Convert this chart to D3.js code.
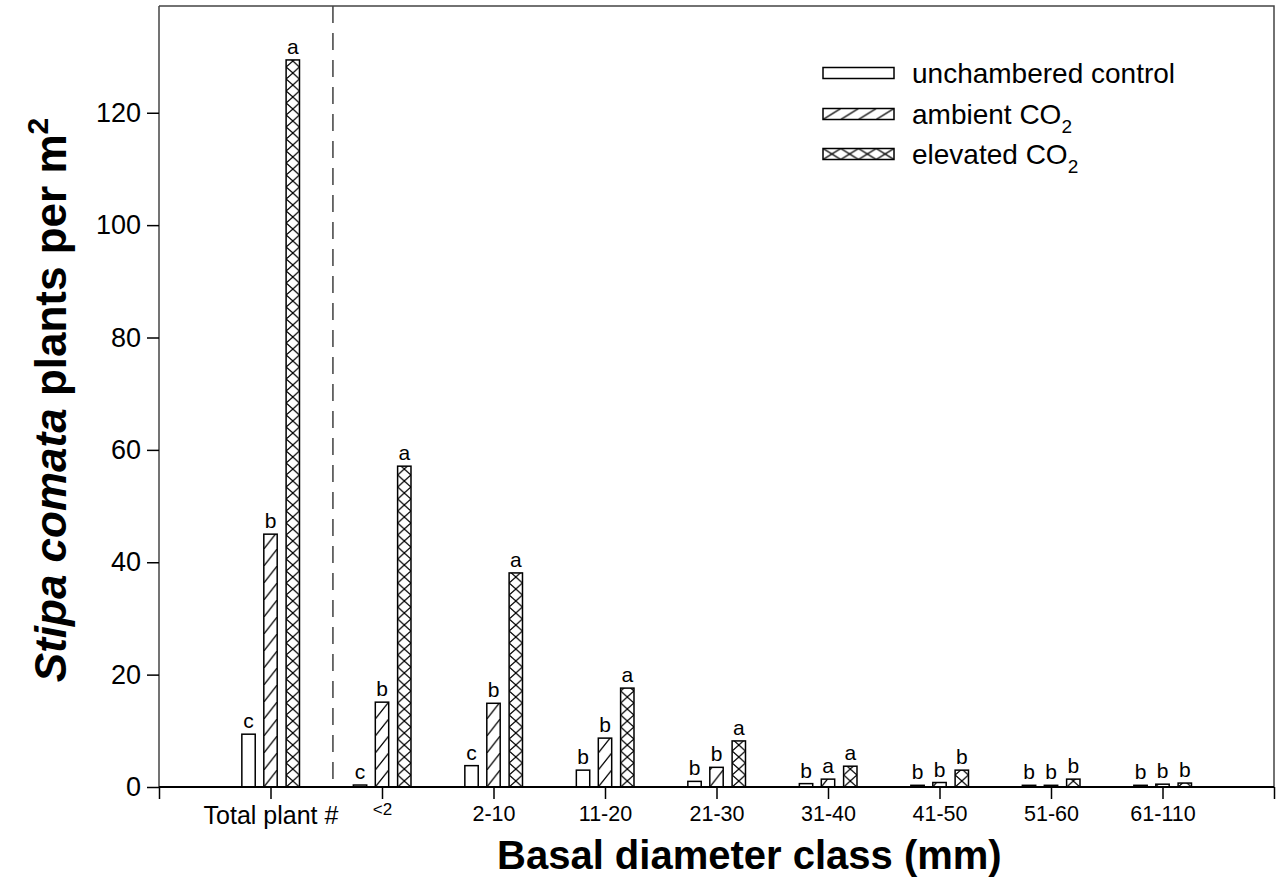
<!DOCTYPE html>
<html>
<head>
<meta charset="utf-8">
<script src="https://cdn.jsdelivr.net/npm/d3@7"></script>
<style>
  body { margin: 0; background: #fff; }
  svg { display: block; font-family: Arial, "Liberation Sans", Helvetica, sans-serif; }
</style>
</head>
<body>
<svg id="chart" width="1278" height="895"></svg>
<script>
// ---- data ----
const categories = ["Total plant #", "<2", "2-10", "11-20", "21-30", "31-40", "41-50", "51-60", "61-110"];
const seriesNames = ["unchambered control", "ambient CO2", "elevated CO2"];
const unchambered = [9.4, 0.35, 3.8, 3.0, 1.0, 0.6, 0.3, 0.3, 0.3];
const ambient     = [45, 15.1, 14.9, 8.7, 3.5, 1.4, 0.8, 0.3, 0.5];
const elevated    = [129.4, 57.1, 38.1, 17.6, 8.2, 3.7, 3.0, 1.4, 0.7];
const lettersUnch = ["c", "c", "c", "b", "b", "b", "b", "b", "b"];
const lettersAmb  = ["b", "b", "b", "b", "b", "a", "b", "b", "b"];
const lettersElev = ["a", "a", "a", "a", "a", "a", "b", "b", "b"];
const yTicks = [0, 20, 40, 60, 80, 100, 120];

const svg = d3.select("#chart");
const plot = { left: 159, right: 1274, top: 6, bottom: 787 };

const x = d3.scaleLinear().domain([0, 10]).range([plot.left, plot.right]);
const y = d3.scaleLinear().domain([0, 139]).range([plot.bottom, plot.top]);

const offsets = [-0.197, 0, 0.2];
const barW = 0.12;
const seriesVals = [unchambered, ambient, elevated];
const seriesLetters = [lettersUnch, lettersAmb, lettersElev];

const defs = svg.append("defs");
function makePattern(id, type, ox, oy, w, h) {
  const p = defs.append("pattern").attr("id", id)
    .attr("patternUnits", "userSpaceOnUse")
    .attr("x", ox).attr("y", oy).attr("width", w).attr("height", h);
  p.append("rect").attr("width", w).attr("height", h).attr("fill", "#fff");
  if (type === 1 || type === 2) {
    p.append("line").attr("x1", 0).attr("y1", h).attr("x2", w).attr("y2", 0)
      .attr("stroke", "#000").attr("stroke-width", 1.3);
  }
  if (type === 2) {
    p.append("line").attr("x1", 0).attr("y1", 0).attr("x2", w).attr("y2", h)
      .attr("stroke", "#000").attr("stroke-width", 1.3);
  }
  return `url(#${id})`;
}

// bars
const g = svg.append("g");
seriesVals.forEach((vals, s) => {
  vals.forEach((v, i) => {
    const cx = x(i + 1 + offsets[s]);
    const bw = x(barW) - x(0);
    const x0 = cx - bw / 2;
    const yTop = y(v);
    let fill = "#fff";
    if (s === 1) fill = makePattern(`p${s}_${i}`, 1, x0, y(0), bw, 17);
    if (s === 2) fill = makePattern(`p${s}_${i}`, 2, x0, y(0), bw, 12);
    g.append("rect")
      .attr("x", x0).attr("y", yTop)
      .attr("width", bw).attr("height", y(0) - yTop)
      .attr("fill", fill).attr("stroke", "#000").attr("stroke-width", 1.5);
    g.append("text")
      .attr("x", cx).attr("y", yTop - 6)
      .attr("text-anchor", "middle")
      .attr("font-size", 21)
      .text(seriesLetters[s][i]);
  });
});

// dashed separator
svg.append("line")
  .attr("x1", x(1.56)).attr("x2", x(1.56))
  .attr("y1", plot.top).attr("y2", plot.bottom)
  .attr("stroke", "#222").attr("stroke-width", 1.3)
  .attr("stroke-dasharray", "17,10");

// frame: top and right
svg.append("path")
  .attr("d", `M${plot.left},${plot.top}H${plot.right}V${plot.bottom}`)
  .attr("fill", "none").attr("stroke", "#444").attr("stroke-width", 1.5);

// y axis
const yAxis = d3.axisLeft(y).tickValues(yTicks).tickSize(12).tickPadding(6).tickFormat(d3.format("d"));
const ya = svg.append("g").attr("transform", `translate(${plot.left},0)`).call(yAxis);
ya.select(".domain").attr("stroke", "#444").attr("stroke-width", 1.5).attr("d", `M0,${plot.top}V${plot.bottom}`);
ya.selectAll(".tick line").attr("stroke", "#000").attr("stroke-width", 1.5);
ya.selectAll(".tick text").attr("font-size", 27).attr("fill", "#000").attr("font-family", "Arial, 'Liberation Sans', sans-serif");

// x axis
const xAxis = d3.axisBottom(x).tickValues(d3.range(0, 11)).tickSize(12).tickPadding(7)
  .tickFormat(d => (d >= 1 && d <= 9) ? categories[d - 1] : "");
const xa = svg.append("g").attr("transform", `translate(0,${plot.bottom})`).call(xAxis);
xa.select(".domain").attr("stroke", "#000").attr("stroke-width", 2).attr("d", `M${plot.left},0H${plot.right}`);
xa.selectAll(".tick line").attr("stroke", "#000").attr("stroke-width", 1.5);
xa.selectAll(".tick text")
  .attr("font-size", d => d === 1 ? 25 : (d === 2 ? 17 : 21.5))
  .attr("dy", d => d === 2 ? "0.55em" : "0.71em")
  .attr("fill", "#000")
  .attr("font-family", "Arial, 'Liberation Sans', sans-serif");

// axis titles
svg.append("text")
  .attr("x", 497).attr("y", 869)
  .attr("text-anchor", "start").attr("font-weight", "bold").attr("font-size", 40)
  .text("Basal diameter class (mm)");

const yl = svg.append("text")
  .attr("transform", `translate(66,400) rotate(-90)`)
  .attr("text-anchor", "middle").attr("font-weight", "bold").attr("font-size", 44);
yl.append("tspan").attr("font-style", "italic").text("Stipa comata");
yl.append("tspan").text(" plants per m");
yl.append("tspan").attr("font-size", 30).attr("dy", -18).text("2");

// legend
const legendRows = [
  { name: "unchambered control", sub: null, type: 0 },
  { name: "ambient CO", sub: "2", type: 1 },
  { name: "elevated CO", sub: "2", type: 2 }
];
const lg = svg.append("g");
const legY = [73, 114, 154];
legendRows.forEach((r, i) => {
  const bx = 823, bw = 71, bh = 11, by = legY[i] - bh / 2;
  let fill = "#fff";
  if (r.type === 1) fill = makePattern(`leg${i}`, 1, bx, by, 17.75, bh);
  if (r.type === 2) fill = makePattern(`leg${i}`, 2, bx, by, 17.75, bh);
  lg.append("rect").attr("x", bx).attr("y", by).attr("width", bw).attr("height", bh)
    .attr("fill", fill).attr("stroke", "#000").attr("stroke-width", 1.5);
  const t = lg.append("text").attr("x", 912).attr("y", legY[i] + 10).attr("font-size", 28);
  t.append("tspan").text(r.name);
  if (r.sub) t.append("tspan").attr("font-size", 19).attr("dy", 9).text(r.sub);
});
</script>
</body>
</html>
